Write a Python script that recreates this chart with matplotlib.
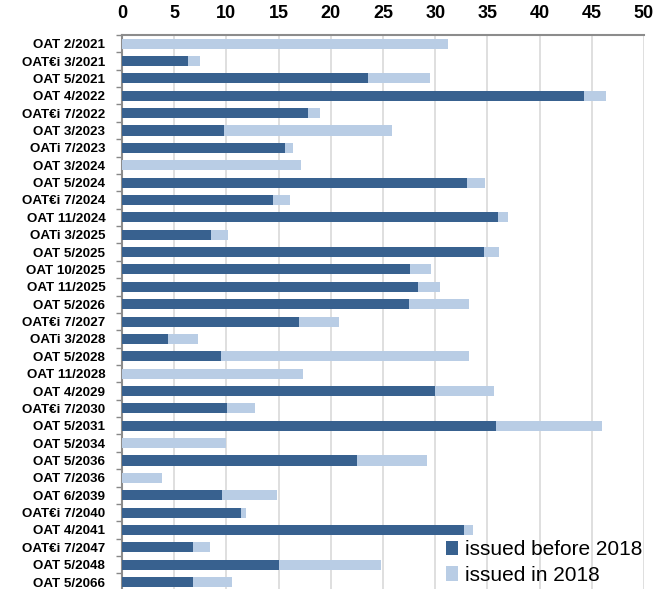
import numpy as np
import matplotlib.pyplot as plt
from matplotlib.ticker import FixedLocator

plt.rcParams['font.family'] = ['Liberation Sans', 'DejaVu Sans']

# obligations, du haut vers le bas
bonds = ['OAT 2/2021', 'OAT€i 3/2021', 'OAT 5/2021', 'OAT 4/2022', 'OAT€i 7/2022',
         'OAT 3/2023', 'OATi 7/2023', 'OAT 3/2024', 'OAT 5/2024', 'OAT€i 7/2024',
         'OAT 11/2024', 'OATi 3/2025', 'OAT 5/2025', 'OAT 10/2025', 'OAT 11/2025',
         'OAT 5/2026', 'OAT€i 7/2027', 'OATi 3/2028', 'OAT 5/2028', 'OAT 11/2028',
         'OAT 4/2029', 'OAT€i 7/2030', 'OAT 5/2031', 'OAT 5/2034', 'OAT 5/2036',
         'OAT 7/2036', 'OAT 6/2039', 'OAT€i 7/2040', 'OAT 4/2041', 'OAT€i 7/2047',
         'OAT 5/2048', 'OAT 5/2066']

# encours emis avant 2018
before_2018 = [0, 6.3, 23.6, 44.3, 17.8,
               9.8, 15.6, 0, 33.0, 14.5,
               36.0, 8.5, 34.7, 27.6, 28.4,
               27.5, 17.0, 4.4, 9.5, 0,
               30.0, 10.1, 35.8, 0, 22.5,
               0, 9.6, 11.4, 32.8, 6.8,
               15.0, 6.8]

# emis en 2018
in_2018 = [31.2, 1.2, 5.9, 2.1, 1.2,
           16.1, 0.8, 17.1, 1.8, 1.6,
           1.0, 1.7, 1.4, 2.0, 2.1,
           5.7, 3.8, 2.9, 23.7, 17.3,
           5.6, 2.6, 10.2, 10.0, 6.7,
           3.8, 5.2, 0.5, 0.8, 1.6,
           9.8, 3.7]

dark = '#38618F'
light = '#B9CDE5'

fig = plt.figure(figsize=(6.57, 5.89), dpi=100)
ax = fig.add_axes([0.1857, -0.003, 0.7945, 0.9436])

y = np.arange(len(bonds))
h = 0.58
ax.barh(y, before_2018, h, color=dark, label='issued before 2018', zorder=3)
ax.barh(y, in_2018, h, left=before_2018, color=light, label='issued in 2018', zorder=3)

ax.set_ylim(len(bonds) - 0.5, -0.5)
ax.set_yticks(y)
ax.set_yticklabels(bonds, fontsize=9.6, fontweight='bold')
ax.yaxis.set_minor_locator(FixedLocator(np.arange(-0.5, len(bonds), 1)))
ax.tick_params(axis='y', which='major', length=0, pad=12)
ax.tick_params(axis='y', which='minor', length=4, color='#888888', width=1)

ax.set_xlim(0, 50)
ax.set_xticks(np.arange(0, 51, 5))
ax.xaxis.tick_top()
ax.tick_params(axis='x', length=0, labelsize=13, pad=9)
for lbl in ax.get_xticklabels():
    lbl.set_fontweight('bold')
ax.xaxis.grid(True, color='#D9D9D9', linewidth=1.2, zorder=0)

for s in ['right', 'bottom']:
    ax.spines[s].set_visible(False)
for s in ['top', 'left']:
    ax.spines[s].set_color('#8C8C8C')
    ax.spines[s].set_linewidth(1.5)

ax.legend(loc='lower right', bbox_to_anchor=(1.012, -0.004), frameon=False, fontsize=15,
          handlelength=0.6, handleheight=0.7, handletextpad=0.3, labelspacing=0.3,
          borderaxespad=0.0)

plt.savefig('out.png', dpi=100)
